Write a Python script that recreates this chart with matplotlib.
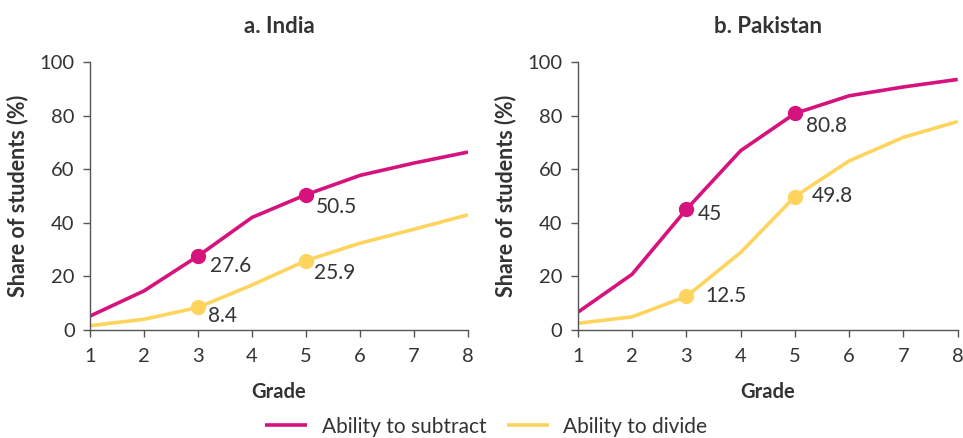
import matplotlib.pyplot as plt

plt.rcParams['font.family'] = ['Lato', 'DejaVu Sans']

grades = [1, 2, 3, 4, 5, 6, 7, 8]

india_subtract = [5.2, 14.6, 27.6, 42.0, 50.5, 57.7, 62.3, 66.4]
india_divide = [1.6, 4.0, 8.4, 16.8, 25.9, 32.4, 37.6, 43.0]
pak_subtract = [6.6, 20.8, 45.0, 66.9, 80.8, 87.4, 90.7, 93.5]
pak_divide = [2.5, 4.9, 12.5, 28.9, 49.8, 63.1, 71.9, 77.8]

# highlighted points: (grade, value, label)
india_marks_sub = [(3, 27.6, "27.6"), (5, 50.5, "50.5")]
india_marks_div = [(3, 8.4, "8.4"), (5, 25.9, "25.9")]
pak_marks_sub = [(3, 45.0, "45"), (5, 80.8, "80.8")]
pak_marks_div = [(3, 12.5, "12.5"), (5, 49.8, "49.8")]

MAGENTA = "#D6137D"
YELLOW = "#FDD55E"
TEXT = "#333333"

fig = plt.figure(figsize=(9.63, 4.38), dpi=100)
ax1 = fig.add_axes([0.0935, 0.2466, 0.3925, 0.6118])
ax2 = fig.add_axes([0.600, 0.2466, 0.3945, 0.6118])


def draw_panel(ax, title, sub, div, marks_sub, marks_div, offsets):
    ax.plot(grades, sub, color=MAGENTA, lw=2.6, label="Ability to subtract", solid_capstyle="butt")
    ax.plot(grades, div, color=YELLOW, lw=2.6, label="Ability to divide", solid_capstyle="butt")
    for (x, y, lab), off in zip(marks_sub + marks_div, offsets):
        c = MAGENTA if (x, y, lab) in marks_sub else YELLOW
        ax.plot([x], [y], 'o', color=c, ms=10, zorder=5)
        ax.annotate(lab, (x, y), xytext=off, textcoords="offset pixels",
                    fontsize=15, color=TEXT, va="center", ha="left")
    ax.set_xlim(1, 8)
    ax.set_ylim(0, 100)
    ax.set_xticks(grades)
    ax.set_yticks([0, 20, 40, 60, 80, 100])
    ax.spines['top'].set_visible(False)
    ax.spines['right'].set_visible(False)
    for s in ['left', 'bottom']:
        ax.spines[s].set_color("#555555")
        ax.spines[s].set_linewidth(1.0)
    ax.tick_params(colors="#555555", labelcolor=TEXT, labelsize=14.5, length=5, width=1)
    ax.tick_params(axis='x', pad=8)
    ax.tick_params(axis='y', pad=6)
    ax.set_xlabel("Grade", fontsize=14.5, fontweight="bold", color=TEXT, labelpad=12)
    ax.set_ylabel("Share of students (%)", fontsize=15.5, fontweight="bold", color=TEXT, labelpad=8)
    ax.set_title(title, fontsize=16, fontweight="bold", color=TEXT, pad=21)


draw_panel(ax1, "a. India", india_subtract, india_divide, india_marks_sub, india_marks_div,
           [(12, -10), (10, -12), (10, -9), (8, -12)])
draw_panel(ax2, "b. Pakistan", pak_subtract, pak_divide, pak_marks_sub, pak_marks_div,
           [(11, -5), (11, -13), (19, 0), (17, 1)])

handles, labels = ax1.get_legend_handles_labels()
fig.legend(handles, labels, loc="lower center", bbox_to_anchor=(0.505, -0.04), ncol=2,
           frameon=False, fontsize=15, handlelength=2.0, handletextpad=0.7,
           columnspacing=1.0, labelcolor=TEXT)

fig.savefig("out.png", dpi=100)
